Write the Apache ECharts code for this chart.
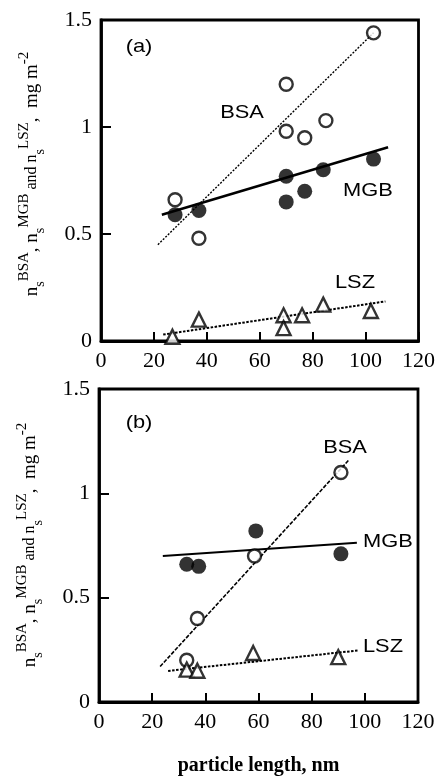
<!DOCTYPE html>
<html>
<head>
<meta charset="utf-8">
<script src="https://cdn.jsdelivr.net/npm/echarts@6/dist/echarts.min.js"></script>
<style>
html,body{margin:0;padding:0;background:#fff;}
#chart{width:438px;height:778px;}
</style>
</head>
<body>
<div id="chart"></div>
<script>
// ---- Data (particle length nm, n_s mg m^-2) ----
var xTicks = [0, 20, 40, 60, 80, 100, 120];
var yTicks = [0, 0.5, 1, 1.5];

// Panel (a)
var bsaA = [[28, 0.66], [37, 0.48], [70, 1.20], [70, 0.98], [77, 0.95], [85, 1.03], [103, 1.44]];
var mgbA = [[28, 0.59], [37, 0.61], [70, 0.77], [70, 0.65], [77, 0.70], [84, 0.80], [103, 0.85]];
var lszA = [[27, 0.02], [37, 0.10], [69, 0.12], [69, 0.06], [76, 0.12], [84, 0.17], [102, 0.14]];
var bsaFitA = [[21.5, 0.45], [103, 1.44]];
var mgbFitA = [[23, 0.59], [108.5, 0.905]];
var lszFitA = [[23.5, 0.03], [107.5, 0.185]];

// Panel (b)
var bsaB = [[33, 0.20], [37, 0.40], [58.5, 0.70], [91, 1.10]];
var mgbB = [[33, 0.66], [37.5, 0.65], [59, 0.82], [91, 0.71]];
var lszB = [[33, 0.155], [37, 0.15], [58, 0.235], [90, 0.215]];
var bsaFitB = [[23, 0.17], [94, 1.16]];
var mgbFitB = [[24, 0.70], [97, 0.763]];
var lszFitB = [[26, 0.149], [97.5, 0.247]];

var labelsA = ['(a)', 'BSA', 'MGB', 'LSZ'];
var labelsB = ['(b)', 'BSA', 'MGB', 'LSZ'];
var xTitle = 'particle length, nm';

// ---- Styles ----
var serif = '"Liberation Serif", "DejaVu Serif", serif';
var sans = '"Liberation Sans", Arial, sans-serif';

function xAxisCfg(gi, withName) {
  var c = {
    type: 'value', gridIndex: gi, min: xTicks[0], max: xTicks[xTicks.length - 1], interval: xTicks[1] - xTicks[0],
    axisLine: { show: true, lineStyle: { color: '#000', width: 2.8 } },
    axisTick: { show: true, inside: true, length: 9, lineStyle: { color: '#000', width: 2 } },
    splitLine: { show: false },
    axisLabel: { color: '#000', fontFamily: serif, fontSize: 22, margin: 9 }
  };
  if (withName) {
    c.name = xTitle;
    c.nameLocation = 'middle';
    c.nameGap = 54;
    c.nameTextStyle = { color: '#000', fontFamily: serif, fontSize: 20, fontWeight: 'bold' };
  }
  return c;
}
function yAxisCfg(gi) {
  return {
    type: 'value', gridIndex: gi, min: yTicks[0], max: yTicks[yTicks.length - 1], interval: yTicks[1] - yTicks[0],
    axisLine: { show: true, lineStyle: { color: '#000', width: 2.8 } },
    axisTick: { show: true, inside: true, length: 10, lineStyle: { color: '#000', width: 2 } },
    splitLine: { show: false },
    axisLabel: { color: '#000', fontFamily: serif, fontSize: 22, margin: 9 }
  };
}
function openSym(name, data, gi, sym) {
  return { name: name, type: 'scatter', xAxisIndex: gi, yAxisIndex: gi, data: data, symbol: sym, symbolSize: sym === 'triangle' ? 14 : 13,
    itemStyle: { color: '#fff', borderColor: '#000', borderWidth: 2.4 }, z: 5 };
}
function fillSym(name, data, gi) {
  return { name: name, type: 'scatter', xAxisIndex: gi, yAxisIndex: gi, data: data, symbol: 'circle', symbolSize: 15,
    itemStyle: { color: '#000' }, z: 5 };
}
function fit(name, data, gi, width, dash) {
  return { name: name, type: 'line', xAxisIndex: gi, yAxisIndex: gi, data: data, symbol: 'none', silent: true,
    lineStyle: { color: '#000', width: width, type: dash }, z: 3 };
}

var rich = {
  b: { fontFamily: serif, fontSize: 19, lineHeight: 30, verticalAlign: 'middle', fill: '#000' },
  m: { fontFamily: serif, fontSize: 16, lineHeight: 30, verticalAlign: 'middle', fill: '#000' },
  sub: { fontFamily: serif, fontSize: 14, lineHeight: 14, verticalAlign: 'bottom', fill: '#000' },
  sup: { fontFamily: serif, fontSize: 15, lineHeight: 15, verticalAlign: 'top', fill: '#000' }
};
var yTitleText = '{b|n}{sub|s}{sup|BSA}{b|, n}{sub|s}{sup|MGB}{m| and n}{sub|s}{sup|LSZ}{b|,  mg m}{sup|-2}';

function yTitle(cx, cy) {
  return { type: 'text', x: cx, y: cy, rotation: Math.PI / 2,
    style: { text: yTitleText, rich: rich, align: 'center', verticalAlign: 'middle', fill: '#000' } };
}
function lab(text, x, y) {
  return { type: 'text', x: x, y: y, scaleX: 1.15,
    style: { text: text, fontFamily: sans, fontSize: 19, fill: '#000', align: 'center', verticalAlign: 'middle' } };
}

var chart = echarts.init(document.getElementById('chart'), null, { renderer: 'canvas' });
chart.setOption({
  animation: false,
  backgroundColor: '#fff',
  grid: [
    { left: 101, top: 20, width: 320, height: 321, show: true, borderColor: '#000', borderWidth: 2.8, backgroundColor: 'transparent' },
    { left: 99, top: 389, width: 319, height: 313, show: true, borderColor: '#000', borderWidth: 2.8, backgroundColor: 'transparent' }
  ],
  xAxis: [xAxisCfg(0, false), xAxisCfg(1, true)],
  yAxis: [yAxisCfg(0), yAxisCfg(1)],
  series: [
    fit('BSA fit a', bsaFitA, 0, 1.4, [2, 1.5]),
    fit('MGB fit a', mgbFitA, 0, 2.6, 'solid'),
    fit('LSZ fit a', lszFitA, 0, 2, [2.5, 1.5]),
    openSym('BSA a', bsaA, 0, 'circle'),
    fillSym('MGB a', mgbA, 0),
    openSym('LSZ a', lszA, 0, 'triangle'),
    fit('BSA fit b', bsaFitB, 1, 1.6, [4, 1.5]),
    fit('MGB fit b', mgbFitB, 1, 2, 'solid'),
    fit('LSZ fit b', lszFitB, 1, 2, [2.5, 1.5]),
    openSym('BSA b', bsaB, 1, 'circle'),
    fillSym('MGB b', mgbB, 1),
    openSym('LSZ b', lszB, 1, 'triangle')
  ],
  graphic: [
    yTitle(32, 174),
    yTitle(30, 545),
    lab(labelsA[0], 139, 47),
    lab(labelsA[1], 242, 113),
    lab(labelsA[2], 368, 191),
    lab(labelsA[3], 355, 283),
    lab(labelsB[0], 139, 423),
    lab(labelsB[1], 345, 448),
    lab(labelsB[2], 388, 542),
    lab(labelsB[3], 383, 647)
  ]
});
</script>
</body>
</html>
